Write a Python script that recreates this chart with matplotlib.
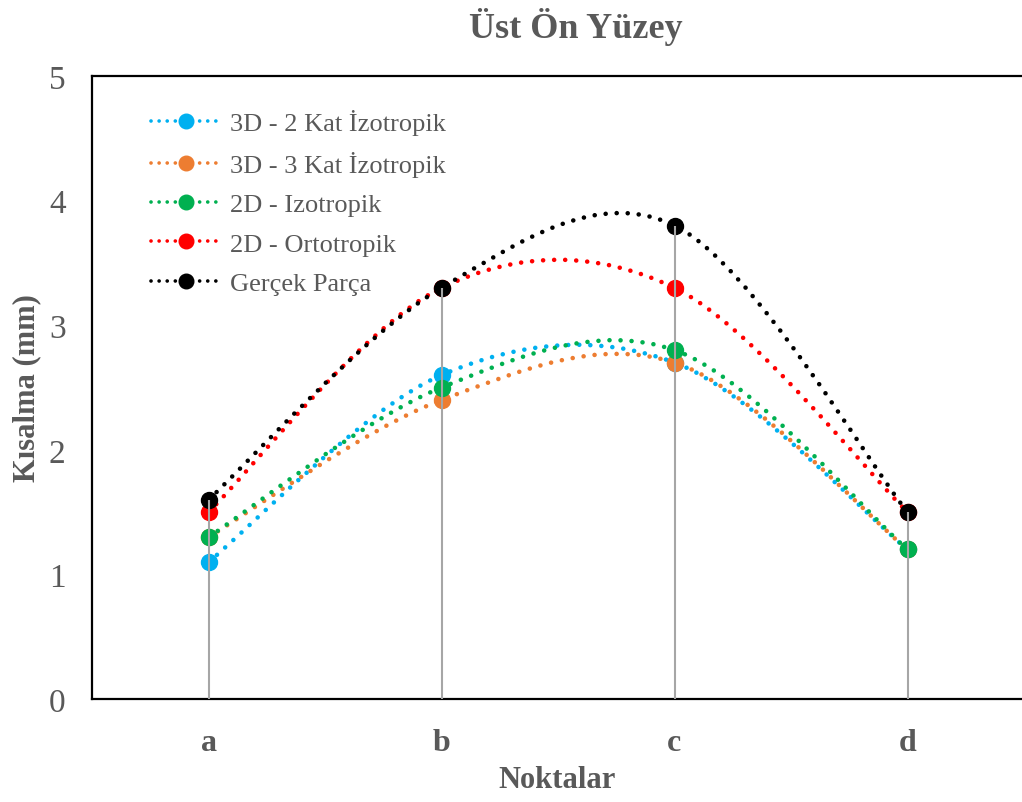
import matplotlib
matplotlib.use("Agg")
import matplotlib.pyplot as plt
from matplotlib.path import Path
from matplotlib.patches import PathPatch
from matplotlib.lines import Line2D

plt.rcParams["font.family"] = ["Liberation Serif", "DejaVu Serif"]

categories = ["a", "b", "c", "d"]
series_names = ["3D - 2 Kat İzotropik", "3D - 3 Kat İzotropik", "2D - Izotropik",
                "2D - Ortotropik", "Gerçek Parça"]
kat2_3d = [1.1, 2.6, 2.7, 1.2]
kat3_3d = [1.3, 2.4, 2.7, 1.2]
izo_2d = [1.3, 2.5, 2.8, 1.2]
orto_2d = [1.5, 3.3, 3.3, 1.5]
gercek = [1.6, 3.3, 3.8, 1.5]
colors = ["#00B0F0", "#ED7D31", "#00B050", "#FF0000", "#000000"]

all_series = [kat2_3d, kat3_3d, izo_2d, orto_2d, gercek]
TXT = "#595959"
LW = 3.3
DOT = (0, (0.01, 2.4))


def smooth_path(xs, ys):
    # Excel-like smoothed line: Catmull-Rom turned into cubic Bezier segments
    n = len(xs)
    verts = [(xs[0], ys[0])]
    codes = [Path.MOVETO]
    for i in range(n - 1):
        i0 = max(i - 1, 0)
        i3 = min(i + 2, n - 1)
        c1 = (xs[i] + (xs[i + 1] - xs[i0]) / 6, ys[i] + (ys[i + 1] - ys[i0]) / 6)
        c2 = (xs[i + 1] - (xs[i3] - xs[i]) / 6, ys[i + 1] - (ys[i3] - ys[i]) / 6)
        verts += [c1, c2, (xs[i + 1], ys[i + 1])]
        codes += [Path.CURVE4] * 3
    return Path(verts, codes)


fig = plt.figure(figsize=(10.22, 8.03), dpi=100)
ax = fig.add_axes([92 / 1022, 1 - 700 / 803, 932 / 1022, 623 / 803])

x = list(range(len(categories)))

handles = []
for s, name, c in zip(all_series, series_names, colors):
    patch = PathPatch(smooth_path(x, s), fill=False, edgecolor=c, lw=LW,
                      linestyle=DOT, capstyle="round", zorder=2)
    ax.add_patch(patch)
    ax.plot(x, s, linestyle="none", marker="o", ms=11.5, color=c, zorder=3)
    handles.append(Line2D([], [], color=c, lw=LW * 0.8, linestyle=(0, (0.01, 2.2)),
                          dash_capstyle="round", marker="o", ms=10.5))

# drop lines (drawn over the markers, as in the original)
tops = [max(s[i] for s in all_series) for i in x]
ax.vlines(x, 0, tops, color="#A6A6A6", lw=1.5, zorder=4)

ax.set_xlim(-0.5, 3.5)
ax.set_ylim(0, 5)
ax.set_xticks(x)
ax.set_xticklabels(categories, fontsize=23, fontweight="bold", color=TXT)
ax.set_yticks(range(6))
ax.tick_params(axis="y", length=0, pad=19, labelsize=24, labelcolor=TXT)
ax.tick_params(axis="x", length=0, pad=21)
for sp in ax.spines.values():
    sp.set_linewidth(1.6)
    sp.set_color("black")

leg = ax.legend(handles, series_names, loc="upper left", bbox_to_anchor=(0.038, 0.985),
                frameon=False, fontsize=19, handlelength=2.65, handletextpad=0.35,
                labelspacing=0.6, numpoints=1)
for t in leg.get_texts():
    t.set_color(TXT)

fig.text(576 / 1022, 1 - 27 / 803, "Üst Ön Yüzey", ha="center", va="center",
         fontsize=26, fontweight="bold", color=TXT)
fig.text(27 / 1022, 1 - 388 / 803, "Kısalma (mm)", ha="center", va="center",
         rotation=90, fontsize=22, fontweight="bold", color=TXT)
fig.text(557 / 1022, 1 - 781 / 803, "Noktalar", ha="center", va="center",
         fontsize=22, fontweight="bold", color=TXT)

fig.savefig("out.png", dpi=100)
